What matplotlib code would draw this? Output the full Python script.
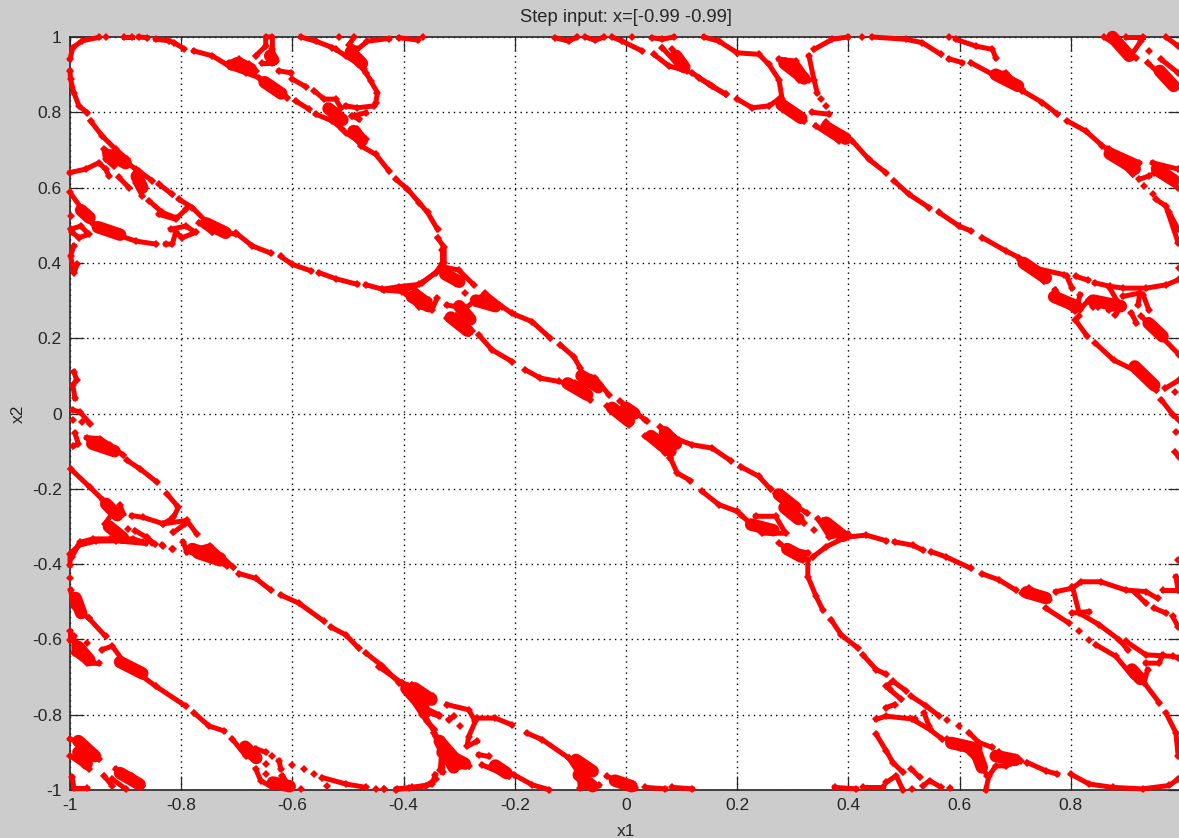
import matplotlib
matplotlib.use('Agg')
import matplotlib.pyplot as plt

# attractor, one list of strokes per region
top_left = [
    [(-0.969,0.799),(-0.984,0.817),(-0.993,0.852),(-0.999,0.888),(-1.0,0.91)],
    [(-1,0.941),(-0.995,0.972),(-0.978,0.99),(-0.948,0.999)],
    [(-0.936,1.0)], [(-0.903,1),(-0.888,1)], [(-0.876,1),(-0.861,0.998)],
    [(-0.846,0.994),(-0.822,0.99),(-0.813,0.985),(-0.795,0.969)],
    [(-0.777,0.963),(-0.744,0.95),(-0.714,0.923)],
    [(-0.714,0.932),(-0.696,0.941),(-0.678,0.927),(-0.666,0.91)],
    [(-0.711,0.919),(-0.684,0.905),(-0.66,0.892),(-0.63,0.865),(-0.609,0.839)],
    [(-0.666,0.95),(-0.648,0.976),(-0.648,1.0),(-0.636,1),(-0.636,0.967),(-0.63,0.936)],
    [(-0.654,0.932),(-0.636,0.932)], [(-0.624,0.91),(-0.603,0.905)],
    [(-0.6,0.888),(-0.576,0.868)], [(-0.594,0.83),(-0.57,0.808)],
    [(-0.561,0.857),(-0.543,0.835),(-0.522,0.835),(-0.513,0.812)],
    [(-0.558,0.795),(-0.528,0.777),(-0.51,0.755)], [(-0.537,0.817),(-0.528,0.79)],
    [(-0.504,0.817),(-0.483,0.812),(-0.453,0.817),(-0.45,0.826),(-0.447,0.852),(-0.459,0.883),(-0.471,0.914),(-0.483,0.945),(-0.498,0.954)],
    [(-0.492,0.79),(-0.468,0.799)], [(-0.48,0.781),(-0.492,0.79)],
    [(-0.504,0.746),(-0.477,0.719),(-0.468,0.728),(-0.483,0.755)],
    [(-0.477,0.711),(-0.45,0.688),(-0.426,0.644)],
    [(-0.414,0.622),(-0.393,0.596),(-0.372,0.56),(-0.357,0.534),(-0.339,0.489)],
    [(-0.339,0.467),(-0.327,0.441),(-0.327,0.4),(-0.335,0.38)],
    [(-0.702,0.48),(-0.672,0.445),(-0.639,0.426)],
    [(-0.621,0.417),(-0.6,0.396),(-0.567,0.379)],
    [(-0.552,0.374),(-0.522,0.358),(-0.483,0.343)],
    [(-0.468,0.342),(-0.438,0.33),(-0.408,0.337),(-0.372,0.343),(-0.342,0.374),(-0.33,0.4)],
    [(-0.585,1),(-0.558,0.989),(-0.528,0.972)],
    [(-0.522,0.967),(-0.504,0.95),(-0.48,0.927),(-0.468,0.905)],
    [(-0.516,1)],
    [(-0.489,1),(-0.498,0.98),(-0.483,0.967),(-0.465,0.989),(-0.426,0.996)],
    [(-0.408,0.998),(-0.375,0.992)], [(-0.366,1)],
    [(-0.963,0.777),(-0.942,0.737),(-0.918,0.702),(-0.897,0.675)],
    [(-0.927,0.693),(-0.939,0.702),(-0.936,0.675),(-0.921,0.657)],
    [(-1,0.64),(-0.972,0.649),(-0.948,0.666),(-0.936,0.649),(-0.93,0.631)],
    [(-0.897,0.666),(-0.882,0.649),(-0.882,0.613),(-0.87,0.578)],
    [(-0.912,0.627),(-0.894,0.6)], [(-0.876,0.644),(-0.852,0.618)],
    [(-0.84,0.609),(-0.816,0.582)], [(-0.858,0.565),(-0.834,0.534),(-0.81,0.52)],
    [(-0.804,0.569),(-0.78,0.547),(-0.756,0.511),(-0.732,0.485),(-0.702,0.476)],
    [(-0.84,0.529),(-0.81,0.516),(-0.792,0.542)],
    [(-0.819,0.489),(-0.792,0.498),(-0.774,0.481),(-0.798,0.467),(-0.81,0.481),(-0.816,0.45),(-0.828,0.45)],
    [(-0.768,0.507),(-0.744,0.481)],
    [(-1,0.587),(-0.978,0.542),(-0.954,0.498),(-0.918,0.476),(-0.882,0.458),(-0.846,0.45)],
    [(-0.999,0.489),(-0.981,0.498),(-0.966,0.476),(-0.984,0.467),(-0.996,0.481)],
    [(-0.96,0.507),(-0.93,0.481)], [(-0.999,0.525)],
    [(-0.993,0.445),(-0.999,0.419),(-0.993,0.374),(-0.987,0.396)],
]

centre = [
    [(-0.331,0.435),(-0.331,0.397)],
    [(-0.436,0.328),(-0.403,0.324),(-0.367,0.346),(-0.337,0.381)],
    [(-0.331,0.39),(-0.301,0.381),(-0.274,0.342)], [(-0.325,0.373),(-0.307,0.346)],
    [(-0.397,0.319),(-0.373,0.284),(-0.349,0.275),(-0.34,0.306)],
    [(-0.379,0.328),(-0.355,0.302)], [(-0.289,0.319)],
    [(-0.322,0.253),(-0.283,0.213)],
    [(-0.322,0.288),(-0.289,0.28),(-0.253,0.319),(-0.223,0.284),(-0.205,0.266),(-0.169,0.244),(-0.136,0.2)],
    [(-0.306,0.26),(-0.277,0.22)], [(-0.271,0.293),(-0.241,0.293)],
    [(-0.265,0.209),(-0.241,0.169),(-0.205,0.138)],
    [(-0.181,0.116),(-0.154,0.094),(-0.121,0.085)],
    [(-0.118,0.182),(-0.094,0.151),(-0.082,0.12)],
    [(-0.112,0.081),(-0.064,0.036)],
    [(-0.079,0.107),(-0.055,0.094),(-0.031,0.05)], [(-0.091,0.081),(-0.061,0.072)],
    [(-0.034,0.019),(0.005,-0.03)], [(-0.01,0.032),(0.035,-0.017)], [(0.038,-0.021)],
    [(0.035,-0.061),(0.071,-0.105)],
    [(0.062,-0.035),(0.095,-0.07),(0.119,-0.083),(0.155,-0.092),(0.188,-0.125)],
    [(0.08,-0.119),(0.092,-0.158),(0.116,-0.178)], [(0.08,-0.07),(0.08,-0.119)],
    [(0.137,-0.207),(0.167,-0.242),(0.2,-0.26)],
    [(0.206,-0.141),(0.239,-0.167),(0.26,-0.201)],
    [(0.269,-0.212),(0.326,-0.265)], [(0.29,-0.238),(0.32,-0.291)],
    [(0.206,-0.269),(0.245,-0.318),(0.287,-0.318),(0.269,-0.273),(0.233,-0.273)],
    [(0.338,-0.309)],
]

bottom_right = [
    [(0.276,-0.345),(0.318,-0.389)], [(0.29,-0.36),(0.327,-0.37)],
    [(0.345,-0.279),(0.366,-0.328),(0.399,-0.319)], [(0.354,-0.285),(0.396,-0.325)],
    [(0.399,-0.328),(0.432,-0.323),(0.468,-0.338)],
    [(0.336,-0.381),(0.36,-0.354),(0.396,-0.328)],
    [(0.327,-0.389),(0.327,-0.433),(0.342,-0.486),(0.354,-0.522)],
    [(0.369,-0.548),(0.387,-0.588),(0.417,-0.623)],
    [(0.426,-0.641),(0.45,-0.68),(0.468,-0.693)],
    [(0.483,-0.341),(0.516,-0.35),(0.534,-0.363)],
    [(0.549,-0.367),(0.576,-0.381),(0.62,-0.411)],
    [(0.641,-0.426),(0.671,-0.442),(0.701,-0.469)],
    [(0.713,-0.478),(0.761,-0.495)], [(0.725,-0.464),(0.755,-0.486)],
    [(0.755,-0.517),(0.797,-0.557)], [(0.815,-0.579)], [(0.833,-0.601)],
    [(0.773,-0.473),(0.803,-0.464),(0.818,-0.447),(0.854,-0.447),(0.899,-0.469),(0.935,-0.473),(0.956,-0.491)],
    [(0.917,-0.478),(0.935,-0.504)],
    [(0.803,-0.46),(0.815,-0.53),(0.851,-0.561),(0.887,-0.601),(0.902,-0.627)],
    [(0.803,-0.53),(0.833,-0.526)],
    [(0.845,-0.614),(0.881,-0.645),(0.911,-0.698),(0.926,-0.711)],
    [(0.899,-0.605),(0.935,-0.641),(0.983,-0.645),(0.993,-0.649)],
    [(0.935,-0.663),(0.959,-0.663),(0.965,-0.641)],
    [(0.938,-0.68),(0.932,-0.715),(0.959,-0.768)],
    [(0.971,-0.795),(0.989,-0.848),(0.993,-0.909)],
    [(0.993,-0.39)], [(0.989,-0.433),(0.993,-0.469)], [(0.965,-0.469),(0.993,-0.469)],
    [(0.95,-0.517),(0.971,-0.53)], [(0.983,-0.539),(0.993,-0.566)],
    [(0.8,-0.958),(0.833,-0.984),(0.875,-0.993),(0.929,-0.997),(0.977,-0.988),(0.993,-0.971)],
    [(0.722,-0.927),(0.755,-0.949),(0.776,-0.958)],
    [(0.671,-0.9),(0.71,-0.922),(0.683,-0.936),(0.665,-0.936),(0.653,-0.962),(0.647,-1.0)],
    [(0.578,-0.865),(0.611,-0.892),(0.635,-0.927),(0.65,-0.962)],
    [(0.617,-0.848),(0.635,-0.874),(0.659,-0.887)],
    [(0.515,-0.812),(0.546,-0.839),(0.569,-0.865)],
    [(0.45,-0.812),(0.468,-0.804),(0.52,-0.812)],
    [(0.468,-0.781),(0.483,-0.773)],
    [(0.468,-0.724),(0.48,-0.711),(0.504,-0.737)], [(0.474,-0.733),(0.495,-0.759)],
    [(0.513,-0.751),(0.54,-0.777),(0.563,-0.803)], [(0.536,-0.795),(0.545,-0.83)],
    [(0.578,-0.814)], [(0.599,-0.83)],
    [(0.45,-0.852),(0.468,-0.896),(0.48,-0.927),(0.498,-0.953)],
    [(0.513,-0.944),(0.528,-0.966)],
    [(0.468,-0.98),(0.486,-0.962),(0.498,-1)],
    [(0.534,-0.989),(0.546,-0.975),(0.567,-0.993)], [(0.515,-0.997)], [(0.583,-0.996)],
    [(0.375,-0.993),(0.414,-0.997)], [(0.426,-0.993),(0.462,-0.993)],
]

top_right = [
    [(0.14,1),(0.167,0.989),(0.2,0.958),(0.239,0.954),(0.257,0.927),(0.275,0.887),(0.281,0.834)],
    [(0.131,0.892),(0.155,0.87),(0.179,0.848)],
    [(0.2,0.835),(0.227,0.812),(0.257,0.817),(0.275,0.835)],
    [(0.275,0.826),(0.32,0.777)],
    [(0.275,0.941),(0.305,0.936),(0.329,0.887)], [(0.287,0.923),(0.311,0.887)],
    [(0.329,0.95),(0.338,0.887),(0.344,0.852)],
    [(0.338,0.967),(0.371,0.994),(0.399,1)],
    [(0.35,0.835)], [(0.359,0.817)],
    [(0.335,0.8),(0.365,0.795)],
    [(0.341,0.764),(0.383,0.724),(0.401,0.728)], [(0.359,0.773),(0.395,0.737)],
    [(0.407,0.724),(0.437,0.675),(0.467,0.64)],
    [(0.482,0.618),(0.509,0.582),(0.545,0.547)],
    [(0.563,0.534),(0.599,0.498),(0.62,0.485)],
    [(0.641,0.467),(0.683,0.432),(0.707,0.414)],
    [(0.425,1)], [(0.443,1),(0.503,0.994),(0.533,0.985),(0.566,0.954)],
    [(0.581,0.942),(0.605,0.932)],
    [(0.593,0.994),(0.629,0.976),(0.659,0.967),(0.665,0.945)], [(0.581,1)],
    [(0.62,0.932),(0.659,0.901),(0.683,0.905),(0.713,0.861)],
    [(0.713,0.857),(0.749,0.826),(0.776,0.795)],
    [(0.794,0.777),(0.827,0.75),(0.857,0.711)],
    [(0.869,0.702),(0.923,0.666)], [(0.866,0.702),(0.911,0.635)],
    [(0.947,0.666),(0.993,0.649)], [(0.95,0.64),(0.993,0.6)],
    [(0.86,1),(0.917,0.945)], [(0.926,0.989),(0.908,0.95)], [(0.9,1),(0.93,1)],
    [(0.941,0.963)], [(0.971,1),(0.993,0.976)],
    [(0.938,0.932),(0.983,0.87),(0.993,0.87)], [(0.962,0.941),(0.993,0.905)],
    [(0.923,0.622),(0.941,0.631)], [(0.932,0.604)], [(0.947,0.582)],
    [(0.953,0.569),(0.971,0.551),(0.993,0.454)], [(0.977,0.534),(0.993,0.489)],
    # right edge junction
    [(0.709,0.409),(0.751,0.351)], [(0.733,0.387),(0.787,0.369)], [(0.793,0.364),(0.802,0.333)],
    [(0.81,0.364),(0.831,0.354)],
    [(0.843,0.347),(0.87,0.338),(0.894,0.333),(0.936,0.333),(0.972,0.342),(0.995,0.356)],
    [(0.995,0.387)], [(0.87,0.333),(0.882,0.302)],
    [(0.894,0.311),(0.924,0.32),(0.921,0.289)], [(0.93,0.316),(0.94,0.276)],
    [(0.772,0.329),(0.787,0.293),(0.808,0.271),(0.817,0.316)],
    [(0.817,0.276),(0.832,0.302),(0.84,0.284)], [(0.849,0.284)],
    [(0.868,0.276),(0.889,0.28),(0.88,0.262)],
    [(0.814,0.258),(0.808,0.249),(0.829,0.206)],
    [(0.844,0.187),(0.877,0.142),(0.913,0.116),(0.954,0.062)],
    [(0.909,0.267),(0.918,0.24)],
    [(0.927,0.258),(0.963,0.204),(0.995,0.156)],
    [(0.97,0.067),(0.995,0.089)], [(0.987,0.058)],
    [(0.963,0.036),(0.984,-0.004),(0.995,-0.018)], [(0.99,-0.049)], [(0.987,-0.102),(0.995,-0.116)],
]

bottom_middle = [
    [(-0.445,-0.672),(-0.403,-0.716)],
    [(-0.403,-0.716),(-0.367,-0.8)], [(-0.385,-0.72),(-0.349,-0.756)],
    [(-0.367,-0.778),(-0.337,-0.8)], [(-0.358,-0.818),(-0.346,-0.84)],
    [(-0.322,-0.773),(-0.283,-0.787),(-0.271,-0.818),(-0.283,-0.858),(-0.286,-0.884),(-0.268,-0.871)],
    [(-0.319,-0.813),(-0.31,-0.804)], [(-0.298,-0.831)],
    [(-0.268,-0.809),(-0.235,-0.809),(-0.205,-0.827)],
    [(-0.346,-0.849),(-0.331,-0.893),(-0.334,-0.946)],
    [(-0.319,-0.902),(-0.283,-0.937)],
    [(-0.343,-0.959),(-0.349,-0.985),(-0.385,-0.993),(-0.412,-0.997)], [(-0.436,-0.997)],
    [(-0.265,-0.906),(-0.247,-0.911)],
    [(-0.259,-0.933),(-0.211,-0.964)], [(-0.241,-0.933),(-0.214,-0.946)],
    [(-0.202,-0.959),(-0.169,-0.986),(-0.139,-0.999)],
    [(-0.178,-0.849),(-0.151,-0.866),(-0.103,-0.915),(-0.061,-0.946)],
    [(-0.103,-0.915),(-0.085,-0.955),(-0.082,-0.995),(-0.049,-0.988)],
    [(-0.034,-0.964),(0.017,-0.995)],
    [(0.035,-0.993),(0.071,-0.997)], [(0.083,-0.993),(0.119,-0.997)],
    # top edge above the middle
    [(-0.127,0.998),(-0.103,0.989),(-0.088,1)], [(-0.073,1),(-0.055,0.991),(-0.04,1)],
    [(-0.025,1),(-0.007,0.989),(0.029,0.963)], [(0.011,1)],
    [(0.047,0.998),(0.065,0.994),(0.086,1)],
    [(0.05,0.954),(0.077,0.923),(0.11,0.91)],
    [(0.065,0.972),(0.098,0.918)], [(0.083,0.967),(0.107,0.923)],
    [(0.119,0.905),(0.149,0.874),(0.179,0.848)],
]

left_edge = [
    [(-0.993,0.111),(-0.988,0.089),(-0.995,0.076),(-0.991,0.04)],
    [(-0.995,0.009),(-0.982,0.004),(-0.964,-0.027)], [(-0.995,-0.018)], [(-0.979,-0.022)],
    [(-0.991,-0.053),(-0.985,-0.08),(-0.994,-0.087)],
    [(-0.97,-0.064),(-0.946,-0.067),(-0.928,-0.084),(-0.904,-0.111)],
    [(-0.898,-0.124),(-0.874,-0.147),(-0.844,-0.182)],
    [(-0.999,-0.147),(-0.964,-0.196),(-0.94,-0.231),(-0.925,-0.258)],
    [(-0.826,-0.213),(-0.805,-0.249),(-0.814,-0.276),(-0.832,-0.293),(-0.868,-0.276),(-0.889,-0.271)],
    [(-0.91,-0.244),(-0.904,-0.267)],
    [(-0.832,-0.293),(-0.79,-0.284),(-0.772,-0.32)], [(-0.814,-0.316),(-0.793,-0.293)],
    [(-0.925,-0.267),(-0.937,-0.293),(-0.919,-0.32),(-0.907,-0.333)],
    [(-0.895,-0.307)], [(-0.883,-0.311),(-0.862,-0.329),(-0.847,-0.347)],
    [(-0.832,-0.351)], [(-0.814,-0.36)],
    [(-0.997,-0.382),(-0.982,-0.342),(-0.958,-0.333),(-0.928,-0.333),(-0.886,-0.333),(-0.868,-0.342)],
    [(-0.796,-0.342),(-0.79,-0.369)],
    [(-0.772,-0.36),(-0.748,-0.351),(-0.706,-0.409)], [(-0.766,-0.373),(-0.718,-0.404)],
]

bottom_left = [
    [(-1,-0.403),(-1,-0.372),(-0.984,-0.35),(-0.954,-0.339),(-0.918,-0.338),(-0.864,-0.345)],
    [(-0.852,-0.345)], [(-0.834,-0.35)], [(-0.816,-0.359)],
    [(-0.696,-0.425),(-0.666,-0.438),(-0.639,-0.469)],
    [(-0.621,-0.482),(-0.588,-0.504),(-0.543,-0.552)],
    [(-0.531,-0.567),(-0.504,-0.588),(-0.481,-0.623)],
    [(-0.468,-0.636),(-0.438,-0.671),(-0.408,-0.715)],
    [(-0.402,-0.715),(-0.348,-0.751)], [(-0.396,-0.733),(-0.36,-0.804)],
    [(-0.354,-0.795),(-0.336,-0.804)], [(-0.36,-0.812),(-0.345,-0.839)],
    [(-0.342,-0.856),(-0.33,-0.9),(-0.33,-0.953)], [(-0.33,-0.892),(-0.303,-0.918)],
    [(-0.342,-0.971),(-0.36,-0.989),(-0.39,-0.995),(-0.414,-0.999)],
    [(-0.435,-0.997)], [(-0.45,-0.997)],
    [(-0.468,-0.993),(-0.504,-0.984),(-0.546,-0.967)],
    [(-0.561,-0.958)], [(-0.579,-0.944)], [(-0.6,-0.934)], [(-0.537,-0.989)],
    [(-1,-0.438)], [(-0.999,-0.469),(-0.993,-0.513),(-0.966,-0.544)],
    [(-0.966,-0.544),(-0.936,-0.592)],
    [(-1,-0.579),(-1,-0.601)],
    [(-0.993,-0.592),(-0.993,-0.636),(-0.969,-0.663),(-0.948,-0.664)],
    [(-0.987,-0.61),(-0.96,-0.658)], [(-0.969,-0.61)],
    [(-0.942,-0.627),(-0.924,-0.618),(-0.906,-0.654),(-0.87,-0.698),(-0.846,-0.724),(-0.792,-0.777)],
    [(-0.777,-0.795),(-0.75,-0.83),(-0.723,-0.843)],
    [(-0.708,-0.865),(-0.684,-0.909),(-0.666,-0.918)], [(-0.666,-0.89),(-0.648,-0.9)],
    [(-0.636,-0.909)], [(-0.648,-0.93)], [(-0.624,-0.922),(-0.621,-0.944)],
    [(-0.666,-0.944),(-0.657,-0.975),(-0.636,-0.993)], [(-0.648,-0.958)],
    [(-0.618,-0.962),(-0.606,-0.989)], [(-0.63,-0.98),(-0.6,-0.993)], [(-0.585,-0.997)],
    [(-1,-0.865),(-0.978,-0.874),(-0.948,-0.918)], [(-1,-0.909),(-0.966,-0.944)],
    [(-0.939,-0.962),(-0.924,-0.989)],
    [(-0.918,-0.944),(-0.888,-0.962),(-0.87,-0.989)], [(-0.924,-0.971),(-0.9,-0.997)],
    [(-0.996,-0.966),(-0.993,-0.996),(-0.969,-0.996)],
]

# clusters that are nearly solid in the picture, drawn fatter
thick_parts = [
    [(-0.7,0.93),(-0.675,0.915)], [(-0.65,0.88),(-0.62,0.85)], [(-0.64,0.95),(-0.635,0.94)],
    [(-0.535,0.81),(-0.51,0.78)], [(-0.49,0.75),(-0.475,0.725)], [(-0.495,0.96),(-0.475,0.93)],
    [(-0.925,0.685),(-0.9,0.665)], [(-0.755,0.505),(-0.72,0.48)], [(-0.88,0.63),(-0.87,0.6)],
    [(-0.98,0.54),(-0.965,0.52)], [(-0.95,0.495),(-0.91,0.475)],
    [(-0.325,0.37),(-0.3,0.35)], [(-0.385,0.31),(-0.355,0.285)],
    [(-0.315,0.255),(-0.285,0.22)], [(-0.3,0.285),(-0.28,0.25)], [(-0.27,0.3),(-0.235,0.285)],
    [(-0.105,0.08),(-0.07,0.05)], [(-0.08,0.1),(-0.05,0.07)],
    [(-0.025,0.015),(0.005,-0.02)], [(0.0,0.015),(0.015,0.0)],
    [(0.045,-0.06),(0.08,-0.1)], [(0.07,-0.05),(0.09,-0.08)],
    [(0.275,-0.215),(0.305,-0.25)], [(0.225,-0.295),(0.265,-0.31)],
    [(0.36,-0.29),(0.39,-0.325)], [(0.29,-0.36),(0.315,-0.38)], [(0.285,-0.25),(0.31,-0.28)],
    [(0.72,-0.475),(0.755,-0.49)], [(0.91,-0.68),(0.925,-0.705)],
    [(0.665,-0.91),(0.7,-0.92)], [(0.585,-0.875),(0.63,-0.89)], [(0.63,-0.9),(0.64,-0.94)],
    [(0.715,0.4),(0.755,0.36)], [(0.87,0.69),(0.915,0.65)], [(0.875,1),(0.905,0.95)],
    [(0.955,0.65),(0.985,0.62)], [(0.96,0.91),(0.985,0.87)],
    [(0.36,0.76),(0.395,0.73)], [(0.665,0.9),(0.705,0.87)], [(0.84,0.3),(0.89,0.285)],
    [(0.915,0.125),(0.95,0.075)], [(0.94,0.24),(0.965,0.205)], [(0.77,0.31),(0.81,0.285)],
    [(0.285,0.93),(0.32,0.89)], [(0.28,0.82),(0.315,0.785)], [(0.09,0.95),(0.105,0.92)],
    [(-0.395,-0.73),(-0.365,-0.78)], [(-0.38,-0.73),(-0.35,-0.76)],
    [(-0.335,-0.87),(-0.31,-0.94)], [(-0.33,-0.88),(-0.3,-0.93)],
    [(-0.33,-0.9),(-0.29,-0.93)], [(-0.235,-0.935),(-0.215,-0.955)],
    [(-0.09,-0.92),(-0.06,-0.95)], [(-0.085,-0.96),(-0.06,-0.99)], [(-0.02,-0.975),(0.01,-0.99)],
    [(-0.935,-0.24),(-0.915,-0.27)], [(-0.93,-0.3),(-0.905,-0.33)],
    [(-0.96,-0.08),(-0.92,-0.1)], [(-0.77,-0.37),(-0.73,-0.39)], [(-0.78,-0.36),(-0.73,-0.385)],
    [(-0.99,-0.49),(-0.98,-0.53)], [(-0.91,-0.66),(-0.87,-0.69)],
    [(-0.685,-0.885),(-0.665,-0.915)], [(-0.985,-0.87),(-0.955,-0.91)],
    [(-0.985,-0.9),(-0.97,-0.93)], [(-0.91,-0.955),(-0.875,-0.985)],
    [(-0.635,-0.98),(-0.605,-0.99)], [(-0.985,-0.62),(-0.965,-0.655)],
]

x_ticks = [-1, -0.8, -0.6, -0.4, -0.2, 0, 0.2, 0.4, 0.6, 0.8]
y_ticks = [-1, -0.8, -0.6, -0.4, -0.2, 0, 0.2, 0.4, 0.6, 0.8, 1]
x_labels = ['-1', '-0.8', '-0.6', '-0.4', '-0.2', '0', '0.2', '0.4', '0.6', '0.8']
y_labels = ['-1', '-0.8', '-0.6', '-0.4', '-0.2', '0', '0.2', '0.4', '0.6', '0.8', '1']

plt.rcParams['font.family'] = ['Liberation Sans', 'DejaVu Sans']

fig = plt.figure(figsize=(11.79, 8.38), dpi=100, facecolor='#cccccc')
# right edge of the axes runs just past the image, as in the screenshot
ax = fig.add_axes([70/1179, 48/838, 1112/1179, 753/838])

for region in [top_left, centre, bottom_right, top_right, bottom_middle, left_edge, bottom_left]:
    for stroke in region:
        xs = [p[0] for p in stroke]
        ys = [p[1] for p in stroke]
        ax.plot(xs, ys, '-D', color='red', lw=3.6, ms=4.4, mew=0, clip_on=False, zorder=3)

for stroke in thick_parts:
    xs = [p[0] for p in stroke]
    ys = [p[1] for p in stroke]
    ax.plot(xs, ys, '-', color='red', lw=9, solid_capstyle='round', clip_on=False, zorder=3)

ax.set_xlim(-1, 1)
ax.set_ylim(-1, 1)
ax.set_xticks(x_ticks)
ax.set_xticklabels(x_labels)
ax.set_yticks(y_ticks)
ax.set_yticklabels(y_labels)
ax.tick_params(direction='in', length=10, width=0.9, top=True, right=True, labelsize=12.5,
               colors='#262626', pad=6)
ax.grid(True, color='black', lw=1.0, linestyle=(0, (1, 3)))
ax.set_axisbelow(True)
for s in ax.spines.values():
    s.set_linewidth(1.2)
    s.set_color('#262626')

ax.set_title('Step input: x=[-0.99 -0.99]', fontsize=13.2, color='#262626', pad=11)
ax.set_xlabel('x1', fontsize=12.5, color='#262626', labelpad=8)
ax.set_ylabel('x2', fontsize=12.5, color='#262626', labelpad=4)

fig.savefig('out.png', dpi=100, facecolor=fig.get_facecolor())
